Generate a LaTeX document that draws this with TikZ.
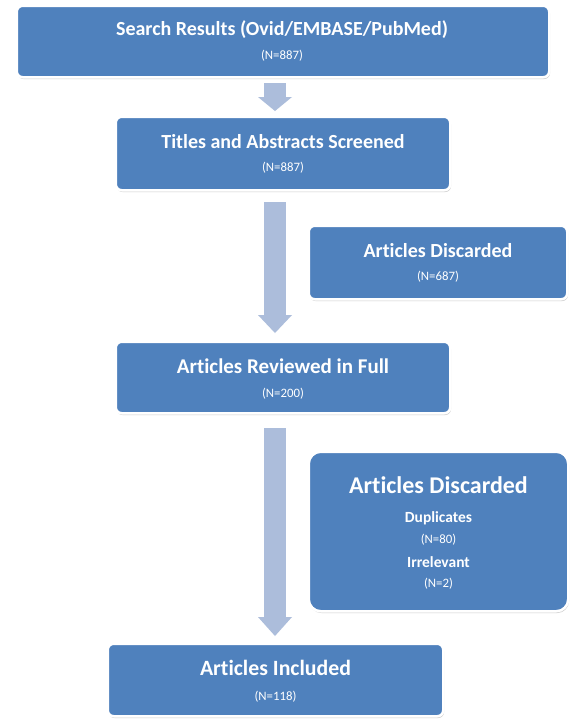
\documentclass[tikz,border=0pt]{standalone}
\usepackage{fontspec}
\setmainfont{Carlito}[Ligatures=NoCommon]
\usetikzlibrary{arrows.meta,shadows}
\definecolor{boxblue}{RGB}{79,129,189}
\definecolor{arrowblue}{RGB}{172,189,219}
\begin{document}
\begin{tikzpicture}[x=1pt,y=-1pt,
  panel/.style={draw=white, line width=2.5pt, fill=boxblue, rounded corners=6pt, inner sep=0pt,
    drop shadow={shadow xshift=0.8pt, shadow yshift=-1.8pt, opacity=0.35, fill=black!55}},
  ttl/.style={text=white, font=\fontsize{#1}{#1}\selectfont\bfseries, inner sep=0pt},
  num/.style={text=white, font=\fontsize{12.8}{14}\selectfont, inner sep=0pt},
  flow/.style={draw=arrowblue, line width=22pt, -{Triangle[width=34pt,length=#1,line width=0pt]}}
]
\fill[white] (0,0) rectangle (571,721);
\useasboundingbox (0,0) rectangle (571,721);
\coordinate (ax) at (275,0);

\node[panel, minimum width=532.5pt, minimum height=71.5pt] (b1) at (283,41.5) {};
\node[panel, minimum width=334.5pt, minimum height=73.5pt] (b2) at (283,153.5) {};
\node[panel, minimum width=258.5pt, minimum height=73.5pt] (b3) at (438,262.5) {};
\node[panel, minimum width=334.5pt, minimum height=71.5pt] (b4) at (283,377.5) {};
\node[panel, rounded corners=12pt, minimum width=259.5pt, minimum height=159.5pt] (b5) at (438.5,531.5) {};
\node[panel, minimum width=335.5pt, minimum height=72.5pt] (b6) at (275.5,680) {};

\node[ttl=20] (t1) at (282,30) {Search Results (Ovid/EMBASE/PubMed)};
\node[num] (n1) at (282,56) {(N=887)};
\node[ttl=20] (t2) at (283,142) {Titles and Abstracts Screened};
\node[num] (n2) at (283,168) {(N=887)};
\node[ttl=20] (t3) at (438,251) {Articles Discarded};
\node[num] (n3) at (438,277) {(N=687)};
\node[ttl=21] (t4) at (283,366) {Articles Reviewed in Full};
\node[num] (n4) at (283,394) {(N=200)};
\node[ttl=24] (t5) at (438.5,485) {Articles Discarded};
\node[ttl=15.5] (d5) at (438.5,518) {Duplicates};
\node[num] (n5a) at (438.5,540) {(N=80)};
\node[ttl=15.5] (i5) at (438.5,562) {Irrelevant};
\node[num] (n5b) at (438.5,584) {(N=2)};
\node[ttl=21.8] (t6) at (275.5,668) {Articles Included};
\node[num] (n6) at (275.5,697) {(N=118)};

\draw[flow=14pt, shorten <=4.5pt, shorten >=4.5pt] (b1.south -| ax) -- (b2.north -| ax);
\draw[flow=18pt, shorten <=10.5pt, shorten >=7.5pt] (b2.south -| ax) -- (b4.north -| ax);
\draw[flow=19pt, shorten <=13.5pt, shorten >=6.5pt] (b4.south -| ax) -- (b6.north -| ax);
\end{tikzpicture}
\end{document}
